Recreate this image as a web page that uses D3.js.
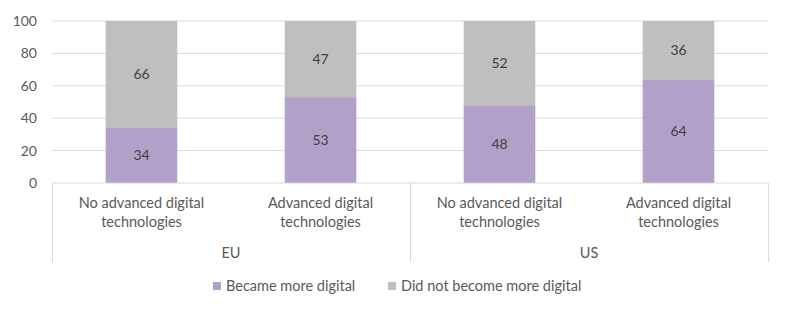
<!DOCTYPE html>
<html>
<head>
<meta charset="utf-8">
<script src="https://cdn.jsdelivr.net/npm/d3@7"></script>
<style>
  body { margin: 0; background: #fff; }
  svg text { font-family: Lato, "Open Sans", sans-serif; }
</style>
</head>
<body>
<div id="chart"></div>
<script>
const groups = ['EU', 'EU', 'US', 'US'];
const categories = [
  ['No advanced digital', 'technologies'],
  ['Advanced digital', 'technologies'],
  ['No advanced digital', 'technologies'],
  ['Advanced digital', 'technologies']
];
const became = [34, 53, 48, 64];
const didNot = [66, 47, 52, 36];
const seriesNames = ['Became more digital', 'Did not become more digital'];
const yTicks = [0, 20, 40, 60, 80, 100];

const colors = ['#b1a0c7', '#bfbfbf'];
const width = 800;
const height = 330;
const margin = { left: 52, right: 32, top: 21, bottom: 147 };

const svg = d3.select('#chart')
  .append('svg')
  .attr('width', width)
  .attr('height', height);

const x = d3.scaleBand()
  .domain(d3.range(categories.length))
  .range([margin.left, width - margin.right])
  .paddingInner(0.6)
  .paddingOuter(0.3);

const y = d3.scaleLinear()
  .domain([0, 100])
  .range([height - margin.bottom, margin.top]);

// gridlines
svg.append('g')
  .selectAll('line')
  .data(yTicks.slice(1))
  .enter()
  .append('line')
  .attr('x1', margin.left)
  .attr('x2', width - margin.right)
  .attr('y1', d => y(d))
  .attr('y2', d => y(d))
  .attr('stroke', '#d9d9d9')
  .attr('stroke-width', 1);

// y tick labels
svg.append('g')
  .selectAll('text')
  .data(yTicks)
  .enter()
  .append('text')
  .attr('x', 37)
  .attr('y', d => y(d))
  .attr('dy', '0.35em')
  .attr('text-anchor', 'end')
  .attr('fill', '#595959')
  .style('font-size', '14px')
  .text(d => d);

// stacked bars
const rows = categories.map((c, i) => ({ i, became: became[i], didNot: didNot[i] }));
const stack = d3.stack().keys(['became', 'didNot'])(rows);

const layers = svg.append('g')
  .selectAll('g')
  .data(stack)
  .enter()
  .append('g')
  .attr('fill', (d, k) => colors[k]);

layers.selectAll('rect')
  .data(d => d)
  .enter()
  .append('rect')
  .attr('x', d => x(d.data.i))
  .attr('width', x.bandwidth())
  .attr('y', d => y(d[1]))
  .attr('height', d => y(d[0]) - y(d[1]));

layers.selectAll('text')
  .data(d => d)
  .enter()
  .append('text')
  .attr('x', d => x(d.data.i) + x.bandwidth() / 2)
  .attr('y', d => y((d[0] + d[1]) / 2))
  .attr('dy', '0.35em')
  .attr('text-anchor', 'middle')
  .attr('fill', '#404040')
  .style('font-size', '14px')
  .text(d => d[1] - d[0]);

// category axis
const axisY = y(0);
const axis = svg.append('g');
axis.append('line')
  .attr('x1', margin.left)
  .attr('x2', width - margin.right)
  .attr('y1', axisY)
  .attr('y2', axisY)
  .attr('stroke', '#d9d9d9');

const step = x.step();
const groupNames = Array.from(new Set(groups));
const groupBounds = groupNames.map(g => {
  const idx = groups.map((d, i) => (d === g ? i : -1)).filter(i => i >= 0);
  const x0 = margin.left + step * d3.min(idx);
  const x1 = margin.left + step * (d3.max(idx) + 1);
  return { name: g, x0, x1 };
});
const seps = [margin.left, ...groupBounds.map(b => b.x1)];

axis.selectAll('.sep')
  .data(seps)
  .enter()
  .append('line')
  .attr('x1', d => Math.round(d) + 0.5)
  .attr('x2', d => Math.round(d) + 0.5)
  .attr('y1', axisY)
  .attr('y2', axisY + 79)
  .attr('stroke', '#d9d9d9');

axis.selectAll('.cat')
  .data(categories)
  .enter()
  .append('text')
  .attr('x', (d, i) => x(i) + x.bandwidth() / 2)
  .attr('y', axisY + 25)
  .attr('text-anchor', 'middle')
  .attr('fill', '#595959')
  .style('font-size', '14.5px')
  .each(function(d) {
    d3.select(this).selectAll('tspan')
      .data(d)
      .enter()
      .append('tspan')
      .attr('x', d3.select(this).attr('x'))
      .attr('dy', (t, j) => (j === 0 ? 0 : 19))
      .text(t => t);
  });

axis.selectAll('.grp')
  .data(groupBounds)
  .enter()
  .append('text')
  .attr('x', d => (d.x0 + d.x1) / 2)
  .attr('y', axisY + 75)
  .attr('text-anchor', 'middle')
  .attr('fill', '#595959')
  .style('font-size', '14.5px')
  .text(d => d.name);

// legend
const legendX = [213, 388];
const legend = svg.append('g')
  .selectAll('g')
  .data(seriesNames)
  .enter()
  .append('g')
  .attr('transform', (d, i) => `translate(${legendX[i]},286)`);

legend.append('rect')
  .attr('x', 0)
  .attr('y', -4)
  .attr('width', 8)
  .attr('height', 8)
  .attr('fill', (d, i) => colors[i]);

legend.append('text')
  .attr('x', 13)
  .attr('dy', '0.35em')
  .attr('fill', '#595959')
  .style('font-size', '14.5px')
  .text(d => d);
</script>
</body>
</html>
